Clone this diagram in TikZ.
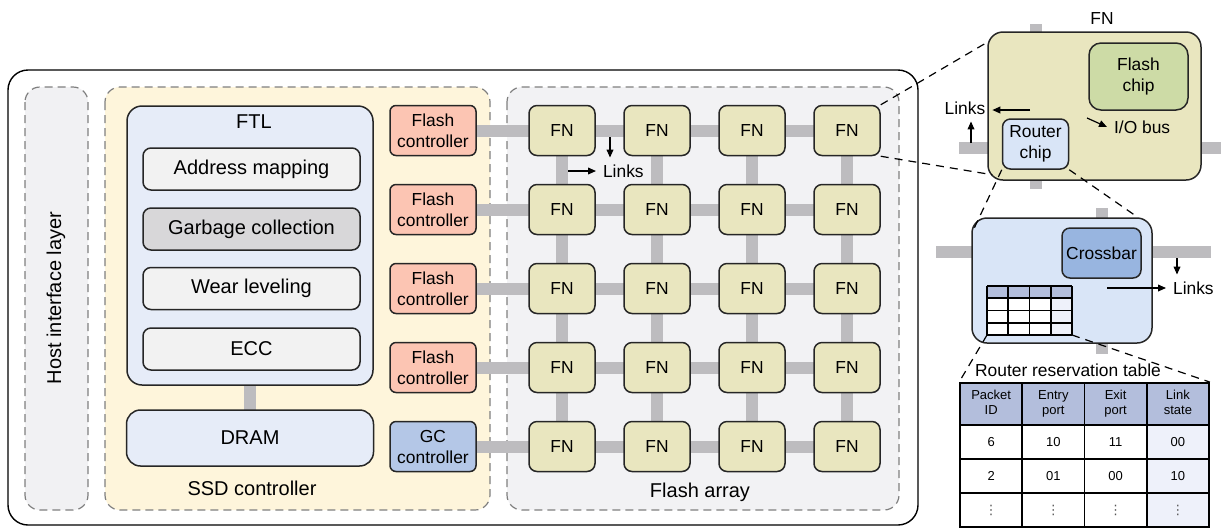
\documentclass[tikz,border=0pt]{standalone}
\usepackage{fontspec}
\setmainfont{Liberation Sans}
\newfontfamily\symfont{DejaVu Sans}
\usetikzlibrary{arrows.meta,positioning,calc}
\definecolor{edge}{HTML}{262626}
\definecolor{dashgray}{HTML}{7F7F7F}
\definecolor{hostgray}{HTML}{F1F1F3}
\definecolor{ssdyellow}{HTML}{FEF5DB}
\definecolor{arraygray}{HTML}{F2F2F4}
\definecolor{ftlblue}{HTML}{E6ECF8}
\definecolor{funcgray}{HTML}{F2F2F2}
\definecolor{gcgray}{HTML}{D8D7D9}
\definecolor{ctrlred}{HTML}{FCC5B3}
\definecolor{gcblue}{HTML}{B4C7E7}
\definecolor{fnyellow}{HTML}{E9E6BF}
\definecolor{bargray}{HTML}{BDBCBF}
\definecolor{chipgreen}{HTML}{CDDBA6}
\definecolor{routerblue}{HTML}{D9E5F7}
\definecolor{xbarblue}{HTML}{98B5E0}
\definecolor{hdrblue}{HTML}{B3BEDC}
\definecolor{statefill}{HTML}{EEF1FA}
\definecolor{dotgray}{HTML}{555555}
\newcommand\lblfont{\fontsize{10}{12}\selectfont}
\newcommand\midfont{\fontsize{8.7}{10.5}\selectfont}
\newcommand\tabfont{\fontsize{6.5}{7.4}\selectfont}
\pgfdeclarelayer{regions}
\pgfdeclarelayer{links}
\pgfsetlayers{regions,links,main}
\begin{document}
\begin{tikzpicture}[x=0.5pt, y=-0.5pt, >={Triangle[length=4pt,width=3.4pt]},
  region/.style={draw=dashgray, dash pattern=on 4pt off 2.5pt, line width=0.6pt, rounded corners=7.5pt},
  box/.style={draw=edge, line width=0.75pt, rounded corners=4pt, align=center, inner sep=0pt},
  func/.style={box, fill=funcgray, minimum width=108.5pt, minimum height=21pt, font=\lblfont},
  ctrl/.style={box, rounded corners=3pt, fill=ctrlred, minimum width=43pt, minimum height=25pt, font=\midfont},
  gcctrl/.style={ctrl, fill=gcblue},
  fn/.style={box, fill=fnyellow, minimum width=33pt, minimum height=25pt, font=\midfont},
  bar/.style={line width=6pt, draw=bargray},
  arr/.style={->, line width=0.6pt},
  zoomline/.style={line width=0.6pt, dash pattern=on 4pt off 3pt},
  tabline/.style={line width=0.8pt},
  cell/.style={draw=black, line width=0.9pt, minimum width=31.125pt, minimum height=17pt, inner sep=0pt, font=\tabfont, align=center},
  hcell/.style={cell, fill=hdrblue, minimum height=21pt}]
  \clip (0,0) rectangle (1221,527);
  \begin{pgfonlayer}{regions}
    \draw[line width=0.7pt, rounded corners=10pt] (8,70) rectangle (918,525);
    \draw[region, fill=hostgray] (25,87) rectangle (88,510);
    \draw[region, fill=ssdyellow] (105,87) rectangle (490,510);
    \draw[region, fill=arraygray] (507,87) rectangle (899,510);
  \end{pgfonlayer}
  \node[rotate=90, font=\lblfont] (hostlbl) at (56,298) {Host interface layer};
  \node[font=\lblfont] (ssdlbl) at (252,488) {SSD controller};
  \node[font=\lblfont] (arraylbl) at (700,492) {Flash array};
  \node[box, fill=ftlblue, rounded corners=7.5pt, minimum width=123pt, minimum height=139.5pt] (ftl) at (250,245.5) {};
  \node[font=\lblfont] (ftllbl) at (254,122) {FTL};
  \node[func] (addr) at (251.5,169) {Address mapping};
  \node[func, fill=gcgray] (gc) at (251.5,229) {Garbage collection};
  \node[func] (wear) at (251.5,288.5) {Wear leveling};
  \node[func] (ecc) at (251.5,349) {ECC};
  \node[box, fill=ftlblue, rounded corners=7pt, minimum width=123.5pt, minimum height=28pt, font=\lblfont] (dram) at (250,438) {DRAM};
  \foreach \r in {1,...,4}
    \node[ctrl] (fc\r) at (433,{130.5+79*(\r-1)}) {Flash\\controller};
  \node[gcctrl] (fc5) at (433,446.5) {GC\\controller};
  \foreach \r in {1,...,5}
    \foreach \c in {1,...,4}
      \node[fn] (fn-\r-\c) at ({562+95*(\c-1)},{130.5+79*(\r-1)}) {FN};
  \node[font=\midfont, anchor=west] (glinks) at (596,171) {Links};
  \coordinate (gl-h) at (568,171);
  \coordinate (gl-v) at (610,137);
  \draw[arr] (gl-h) -- (glinks.west);
  \draw[arr] (gl-v) -- (gl-v |- glinks.north);
  % zoomed flash node
  \node[box, fill=fnyellow, rounded corners=7.5pt, minimum width=106.5pt, minimum height=74pt] (fnbig) at (1094.5,106) {};
  \node[font=\midfont] (fnbiglbl) at (1102,19) {FN};
  \node[box, fill=chipgreen, rounded corners=6pt, minimum width=49.5pt, minimum height=33.5pt, font=\midfont] (fchip) at (1138.5,76.5) {Flash\\chip};
  \node[box, fill=routerblue, minimum width=33pt, minimum height=25pt, font=\midfont] (rchip) at (1035.5,144) {Router\\chip};
  \coordinate (fnv-top) at (1036,24);
  \coordinate (fnv-bot) at (1036,189);
  \coordinate (fnh-l) at (959,148);
  \coordinate (fnh-r) at (1225,148);
  \node[font=\midfont] (fnlinks) at (965,108) {Links};
  \coordinate (fnl-a) at (1030,110);
  \coordinate (fnl-b) at (971,143);
  \draw[arr] (fnl-a) -- (fnlinks.east |- fnl-a);
  \draw[arr] (fnl-b) -- (fnl-b |- fnlinks.south);
  \node[font=\midfont, anchor=west] (iolbl) at (1107,127) {I/O bus};
  \coordinate (io-a) at (1087,118);
  \draw[arr] (io-a) -- (iolbl.west);
  \draw[zoomline] (fn-1-4.north east) -- ($(fnbig.north west)+(0,11)$);
  \draw[zoomline] (fn-1-4.south east) -- ($(fnbig.south west)+(5,-6)$);
  % zoomed router
  \node[box, fill=routerblue, rounded corners=7.5pt, minimum width=90pt, minimum height=62.5pt] (rbox) at (1062,280.5) {};
  \node[box, fill=xbarblue, minimum width=39.5pt, minimum height=25pt, font=\midfont] (xbar) at (1101.5,253) {Crossbar};
  \coordinate (rbh-l) at (936,252);
  \coordinate (rbh-r) at (1211,252);
  \coordinate (rbv-top) at (1102,208);
  \coordinate (rbv-bot) at (1102,354);
  \node[font=\midfont, anchor=west] (rlinks) at (1166,288) {Links};
  \coordinate (rl-h) at (1107,288);
  \coordinate (rl-v) at (1177,258);
  \draw[arr] (rl-h) -- (rlinks.west);
  \draw[arr] (rl-v) -- (rl-v |- rlinks.north);
  \draw[zoomline] (rchip.south west) -- ($(rbox.north west)+(1,15)$);
  \draw[zoomline] (rchip.south east) -- ($(rbox.north east)+(-15,0)$);
  \fill[hdrblue] (987,286) rectangle (1072,298.25);
  \fill[white] (987,298.25) rectangle (1050.75,335);
  \fill[statefill] (1050.75,298.25) rectangle (1072,335);
  \foreach \i in {0,...,4}
    \draw[tabline] ({987+21.25*\i},286) -- ({987+21.25*\i},335);
  \foreach \j in {0,...,4}
    \draw[tabline] (987,{286+12.25*\j}) -- (1072,{286+12.25*\j});
  \coordinate (mini-sw) at (987,335);
  \coordinate (mini-se) at (1072,335);
  % reservation table
  \node[font=\midfont] (rrtlbl) at (1068,370) {Router reservation table};
  \foreach \c/\txt/\btm in {1/Packet/ID,2/Entry/port,3/Exit/port,4/Link/state}
    \node[hcell] (th-\c) at ({991.125+62.25*(\c-1)},404) {\strut\txt\\\strut\btm};
  \foreach \c/\v/\f in {1/6/white,2/10/white,3/11/white,4/00/statefill}
    \node[cell, fill=\f] (td-1-\c) at ({991.125+62.25*(\c-1)},442) {\v};
  \foreach \c/\v/\f in {1/2/white,2/01/white,3/00/white,4/10/statefill}
    \node[cell, fill=\f] (td-2-\c) at ({991.125+62.25*(\c-1)},476) {\v};
  \foreach \c/\f in {1/white,2/white,3/white,4/statefill}
    \node[cell, fill=\f, text=dotgray] (td-3-\c) at ({991.125+62.25*(\c-1)},510) {\symfont ⋮};
  \draw[zoomline] (mini-sw) -- (th-1.north west);
  \draw[zoomline] (mini-se) -- (th-4.north east);
  \begin{pgfonlayer}{links}
    \foreach \r in {1,...,5}
      \draw[bar] (fc\r.center) -- (fn-\r-4.center);
    \foreach \c in {1,...,4}
      \draw[bar] (fn-1-\c.center) -- (fn-5-\c.center);
    \draw[bar] (ftl.center) -- (dram.center);
    \draw[bar] (fnv-top) -- (fnv-bot);
    \draw[bar] (fnh-l) -- (fnh-r);
    \draw[bar] ($(rchip.north east)+(-6,13)$) -- ($(fchip.south west)+(9,-9)$);
    \draw[bar] (rbh-l) -- (rbh-r);
    \draw[bar] (rbv-top) -- (rbv-bot);
  \end{pgfonlayer}
\end{tikzpicture}
\end{document}
